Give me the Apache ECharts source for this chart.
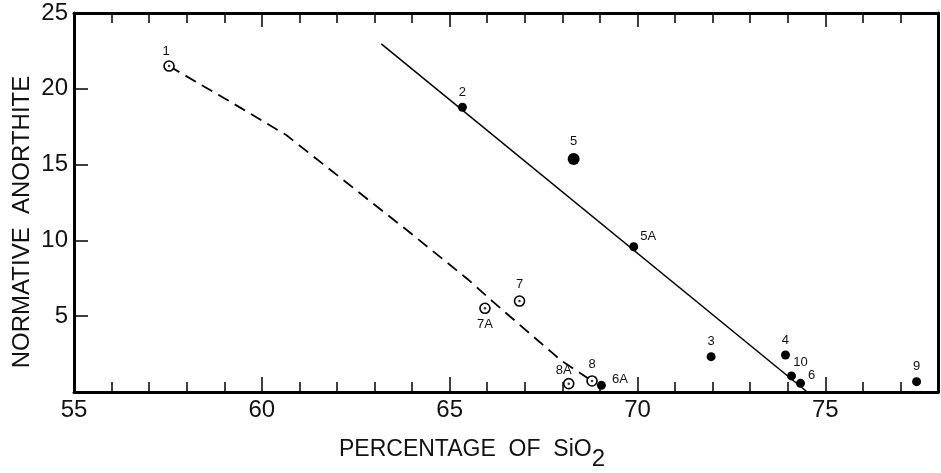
<!DOCTYPE html>
<html>
<head>
<meta charset="utf-8">
<script src="https://cdn.jsdelivr.net/npm/echarts@6/dist/echarts.min.js"></script>
<style>html,body{margin:0;padding:0;background:#fff;}#c{width:941px;height:473px;}</style>
</head>
<body>
<div id="c"></div>
<script>
// ---- data ----
const filledLabels = ['2', '5', '5A', '3', '4', '10', '6', '6A', '9'];
const filledX = [65.34, 68.3, 69.9, 71.96, 73.94, 74.1, 74.34, 69.04, 77.43];
const filledY = [18.78, 15.37, 9.58, 2.33, 2.44, 1.06, 0.57, 0.44, 0.68];

const openLabels = ['1', '7', '7A', '8A', '8'];
const openX = [57.53, 66.86, 65.94, 68.17, 68.79];
const openY = [21.5, 6.0, 5.52, 0.55, 0.73];

const dashX = [57.53, 59.46, 60.65, 63.85, 65.5, 66.15, 67.97, 68.79];
const dashY = [21.5, 18.71, 16.95, 10.7, 7.4, 5.96, 2.07, 0.73];

const solidX = [63.18, 74.52];
const solidY = [22.96, 0];

const xTicks = [55, 60, 65, 70, 75];
const yTicks = [5, 10, 15, 20, 25];

// ---- styling ----
const FONT = '"Liberation Sans", Arial, sans-serif';
const labelPlace = {
  '1': {position: 'top', offset: [-3, 2]},
  '2': {position: 'top', offset: [0, 0]},
  '5': {position: 'top', offset: [0, -1]},
  '5A': {position: 'right', offset: [-2, -10]},
  '3': {position: 'top', offset: [0, 0]},
  '4': {position: 'top', offset: [0, 0]},
  '10': {position: 'top', offset: [9, 1]},
  '6': {position: 'right', offset: [-1, -8]},
  '6A': {position: 'right', offset: [2, -6]},
  '9': {position: 'top', offset: [0, 0]},
  '7': {position: 'top', offset: [0, 0]},
  '7A': {position: 'bottom', offset: [0, 0]},
  '8A': {position: 'top', offset: [-5, 3]},
  '8': {position: 'top', offset: [0, 0]}
};
const sizeFor = {'5': 12};

function pts(xs, ys) { return xs.map((x, i) => [x, ys[i]]); }
function labelled(xs, ys, names) {
  return xs.map((x, i) => ({
    value: [x, ys[i]],
    name: names[i],
    label: Object.assign({show: true, formatter: names[i]}, labelPlace[names[i]])
  }));
}

const chart = echarts.init(document.getElementById('c'), null, {renderer: 'canvas'});
const axisCommon = {
  axisLine: {show: true, onZero: false, lineStyle: {color: '#000', width: 3}},
  splitLine: {show: false}
};
chart.setOption({
  animation: false,
  backgroundColor: '#fff',
  grid: {left: 74, right: 3, top: 13, bottom: 81},
  xAxis: [
    Object.assign({
      type: 'value', position: 'bottom', min: 55, max: 78, interval: 5,
      axisTick: {show: true, inside: true, length: 15, lineStyle: {color: '#000', width: 1.5}},
      minorTick: {show: true, splitNumber: 5, length: 10, lineStyle: {color: '#000', width: 1.5}},
      axisLabel: {
        margin: 6, color: '#111', fontSize: 24, fontFamily: FONT,
        formatter: v => (xTicks.indexOf(v) >= 0 ? String(v) : '')
      }
    }, axisCommon),
    Object.assign({
      type: 'value', position: 'top', min: 55, max: 78, interval: 5,
      axisTick: {show: true, inside: true, length: 14, lineStyle: {color: '#000', width: 1.5}},
      minorTick: {show: true, splitNumber: 5, length: 10, lineStyle: {color: '#000', width: 1.5}},
      axisLabel: {show: false}
    }, axisCommon)
  ],
  yAxis: [
    Object.assign({
      type: 'value', position: 'left', min: 0, max: 25, interval: 5,
      axisTick: {show: true, inside: true, length: 14, lineStyle: {color: '#000', width: 1.5}},
      axisLabel: {
        margin: 6, color: '#111', fontSize: 24, fontFamily: FONT,
        formatter: v => (yTicks.indexOf(v) >= 0 ? String(v) : '')
      }
    }, axisCommon),
    Object.assign({
      type: 'value', position: 'right', min: 0, max: 25, interval: 5,
      axisTick: {show: false}, axisLabel: {show: false}
    }, axisCommon)
  ],
  graphic: [
    {
      type: 'text', x: 22, y: 222, rotation: Math.PI / 2,
      style: {
        text: 'NORMATIVE  ANORTHITE', fill: '#111',
        font: '24px ' + FONT, textAlign: 'center', textVerticalAlign: 'middle'
      }
    },
    {
      type: 'text', x: 472, y: 450,
      style: {
        text: 'PERCENTAGE  OF  SiO{s|2}', fill: '#111',
        font: '23px ' + FONT, textAlign: 'center', textVerticalAlign: 'middle',
        rich: {s: {fontSize: 24, fontFamily: FONT, fill: '#111', padding: [18, 0, 0, 0]}}
      }
    }
  ],
  series: [
    {
      type: 'line', data: pts(solidX, solidY), symbol: 'none', silent: true,
      lineStyle: {color: '#000', width: 1.5}, z: 2
    },
    {
      type: 'line', data: pts(dashX, dashY), symbol: 'none', silent: true,
      lineStyle: {color: '#000', width: 1.8, type: [12, 7]}, z: 2
    },
    {
      type: 'scatter', data: labelled(filledX, filledY, filledLabels),
      symbol: 'circle',
      symbolSize: (v, p) => sizeFor[p.name] || 9,
      itemStyle: {color: '#000', opacity: 1},
      label: {color: '#111', fontSize: 13, fontFamily: FONT, distance: 4},
      z: 3
    },
    {
      type: 'scatter', data: labelled(openX, openY, openLabels),
      symbol: 'circle', symbolSize: 10,
      itemStyle: {color: '#fff', borderColor: '#000', borderWidth: 1.6, opacity: 1},
      label: {color: '#111', fontSize: 13, fontFamily: FONT, distance: 4},
      z: 4
    },
    {
      type: 'scatter', data: pts(openX, openY), symbol: 'circle', symbolSize: 2.5,
      itemStyle: {color: '#000'}, silent: true, z: 5
    }
  ]
});
</script>
</body>
</html>
